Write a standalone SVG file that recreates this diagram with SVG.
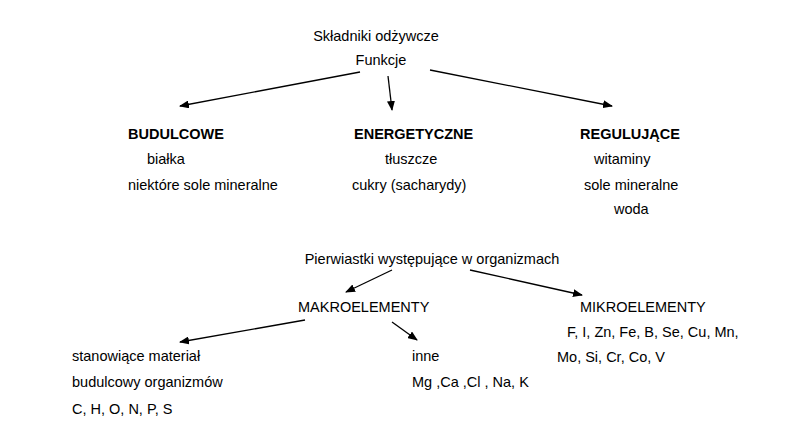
<svg xmlns="http://www.w3.org/2000/svg" width="796" height="427" viewBox="0 0 796 427">
<defs>
<marker id="ah" markerWidth="10" markerHeight="8" refX="9" refY="4" orient="auto" markerUnits="userSpaceOnUse">
<path d="M0,0 L10,4 L0,8 Z" fill="#000"/>
</marker>
</defs>
<style>
text{font-family:"Liberation Sans",Arial,sans-serif;font-size:14.5px;fill:#000}
.b{font-weight:bold}
.c line{stroke:#000;stroke-width:1.3;marker-end:url(#ah)}
</style>
<rect width="796" height="427" fill="#fff"/>
<g id="root"><text x="376" y="41" text-anchor="middle">Składniki odżywcze</text><text x="381" y="65" text-anchor="middle">Funkcje</text></g>
<g id="budulcowe"><text class="b" x="128" y="139">BUDULCOWE</text><text x="147" y="164">białka</text><text x="128" y="190">niektóre sole mineralne</text></g>
<g id="energetyczne"><text class="b" x="354" y="139">ENERGETYCZNE</text><text x="385" y="164">tłuszcze</text><text x="352" y="190">cukry (sacharydy)</text></g>
<g id="regulujace"><text class="b" x="580" y="139">REGULUJĄCE</text><text x="594" y="164">witaminy</text><text x="584" y="190">sole mineralne</text><text x="614" y="214">woda</text></g>
<g id="pierwiastki"><text x="432" y="264" text-anchor="middle">Pierwiastki występujące w organizmach</text></g>
<g id="makro"><text x="298" y="312">MAKROELEMENTY</text></g>
<g id="mikro"><text x="580" y="312">MIKROELEMENTY</text><text x="567" y="337">F, I, Zn, Fe, B, Se, Cu, Mn,</text><text x="557" y="362">Mo, Si, Cr, Co, V</text></g>
<g id="budulcowy"><text x="72" y="361">stanowiące materiał</text><text x="72" y="387">budulcowy organizmów</text><text x="72" y="414">C, H, O, N, P, S</text></g>
<g id="inne"><text x="412" y="361">inne</text><text x="412" y="387">Mg ,Ca ,Cl , Na, K</text></g>
<g class="c" id="connectors">
<line x1="360" y1="72" x2="180" y2="106"/>
<line x1="388" y1="76" x2="392" y2="110"/>
<line x1="430" y1="70" x2="612" y2="106"/>
<line x1="392" y1="270" x2="346" y2="292"/>
<line x1="470" y1="270" x2="582" y2="295"/>
<line x1="305" y1="320" x2="180" y2="342"/>
<line x1="392" y1="322" x2="417" y2="340"/>
</g>
</svg>
